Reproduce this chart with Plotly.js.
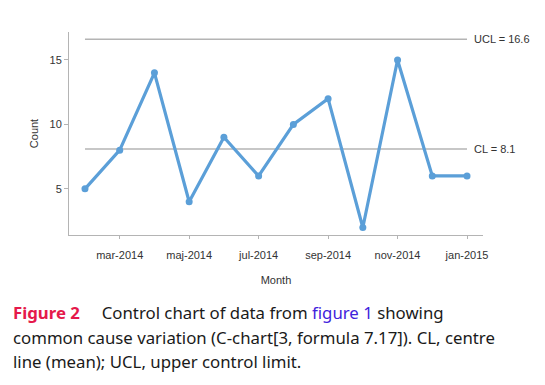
<!DOCTYPE html>
<html><head><meta charset="utf-8">
<script src="https://cdn.plot.ly/plotly-3.0.1.min.js"></script>
<style>body{margin:0;padding:0;background:#fff}#chart{width:545px;height:385px}</style>
</head><body><div id="chart"></div>
<script>
const months = ['feb-2014','mar-2014','apr-2014','maj-2014','jun-2014','jul-2014','aug-2014','sep-2014','okt-2014','nov-2014','dec-2014','jan-2015'];
const counts = [5, 8, 14, 4, 9, 6, 10, 12, 2, 15, 6, 6];
const tickMonths = ['mar-2014','maj-2014','jul-2014','sep-2014','nov-2014','jan-2015'];
const cl = 8.1;
const ucl = 16.6;

const L = 69.3, R = 482.7, T = 31.7, B = 235.3;
const W = R - L, H = B - T;
const px = v => (v - L) / W;
const py = v => (B - v) / H;

const gray = '#b4b4b4';
const traces = [
  {x:[months[0], months[months.length-1]], y:[ucl, ucl], mode:'lines', line:{color:gray, width:1.5}, hoverinfo:'skip'},
  {x:[months[0], months[months.length-1]], y:[cl, cl], mode:'lines', line:{color:gray, width:1.5}, hoverinfo:'skip'},
  {x:months, y:counts, mode:'lines+markers', line:{color:'#5b9fd8', width:3.2}, marker:{color:'#5b9fd8', size:7}}
];

const capFont = {family:'Noto Sans, Open Sans, sans-serif', size:16.8, color:'#1a1a1a'};
const layout = {
  width:545, height:385, showlegend:false,
  paper_bgcolor:'#fff', plot_bgcolor:'#fff',
  margin:{l:L, r:545-R, t:T, b:385-B, pad:0},
  font:{family:'Liberation Sans, Arial, sans-serif', size:11, color:'#333'},
  xaxis:{type:'category', categoryorder:'array', categoryarray:months,
    range:[-0.46, 11.46], tickvals:tickMonths, ticktext:tickMonths,
    showgrid:false, zeroline:false, showline:true, linecolor:gray, linewidth:1,
    ticks:'outside', ticklen:3, tickcolor:gray, ticklabelstandoff:7, tickfont:{size:11, color:'#333'},
    title:{text:'Month', font:{size:11, color:'#333'}, standoff:16}},
  yaxis:{range:[1.42, 17.17], tickvals:[5,10,15],
    showgrid:false, zeroline:false, showline:true, linecolor:gray, linewidth:1,
    ticks:'outside', ticklen:4, tickcolor:gray, tickfont:{size:11, color:'#333'},
    title:{text:'Count', font:{size:11, color:'#333'}, standoff:8}},
  annotations:[
    {xref:'paper', yref:'y', x:px(471.5), y:ucl, xanchor:'left', yanchor:'middle', showarrow:false, text:'UCL = 16.6', font:{size:11, color:'#333'}},
    {xref:'paper', yref:'y', x:px(471.5), y:cl, xanchor:'left', yanchor:'middle', showarrow:false, text:'CL = 8.1', font:{size:11, color:'#333'}},
    {xref:'paper', yref:'paper', x:px(11.5), y:py(313.3), xanchor:'left', yanchor:'middle', showarrow:false, align:'left', font:capFont,
      text:'<b><span style="color:#e5194b">Figure 2</span></b>     Control chart of data from <span style="color:#3f22dc">figure 1</span> showing'},
    {xref:'paper', yref:'paper', x:px(11.5), y:py(337.7), xanchor:'left', yanchor:'middle', showarrow:false, align:'left', font:capFont,
      text:'common cause variation (C-chart[3, formula 7.17]). CL, centre'},
    {xref:'paper', yref:'paper', x:px(11.5), y:py(361.7), xanchor:'left', yanchor:'middle', showarrow:false, align:'left', font:capFont,
      text:'line (mean); UCL, upper control limit.'}
  ]
};
Plotly.newPlot('chart', traces, layout, {displayModeBar:false, staticPlot:true});
</script></body></html>
